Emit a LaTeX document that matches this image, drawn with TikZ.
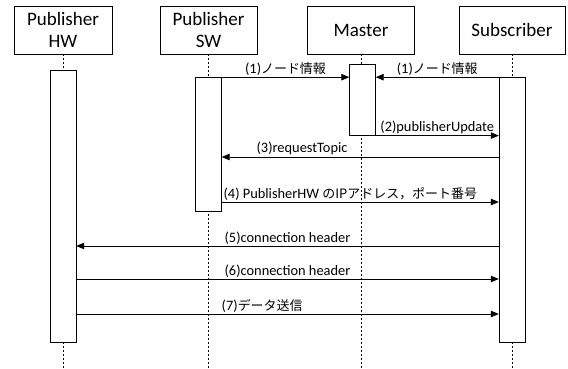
\documentclass[tikz,border=0pt]{standalone}
\usepackage{fontspec}
\setmainfont{Carlito}
\newfontfamily\jp[Scale=0.9]{Noto Sans CJK JP}
\usetikzlibrary{arrows.meta,positioning}

\tikzset{
  actor/.style={draw,thin,fill=white,minimum height=48pt,align=center,
    font=\fontsize{19}{22}\selectfont},
  bar/.style={draw,thin,fill=white,minimum width=26pt,anchor=north,inner sep=0pt},
  lifeline/.style={thin,dash pattern=on 2pt off 2pt},
  msg/.style={thick,-{Triangle[length=8pt,width=6.5pt]}},
  lbl/.style={above,inner sep=1.5pt,font=\fontsize{14.4}{16}\selectfont}
}

\begin{document}
\begin{tikzpicture}[x=1pt,y=1pt]
  \useasboundingbox (0,0) rectangle (568,-369);
  \coordinate (bottom) at (0,-369);

  % lifeline heads
  \node[actor,minimum width=98pt]  (hw)     at (63,-30)    {Publisher\\HW};
  \node[actor,minimum width=97pt]  (sw)     at (208.5,-30) {Publisher\\SW};
  \node[actor,minimum width=107pt] (master) at (361,-30)   {Master};
  \node[actor,minimum width=106pt] (sub)    at (512,-30)   {Subscriber};

  % dashed lifelines
  \foreach \who in {hw,sw,master,sub}
    \draw[lifeline] (\who.south) -- (\who.south |- bottom);

  % activation bars
  \node[bar,minimum height=272pt,below=16pt of hw]     (hwbar)  {};
  \node[bar,minimum height=134pt,below=23pt of sw]     (swbar)  {};
  \node[bar,minimum height=71pt, below=10pt of master,xshift=1.5pt] (mbar) {};
  \node[bar,minimum height=265pt,below=23pt of sub]    (subbar) {};

  % messages
  \draw[msg] (swbar.north east) -- (mbar.west |- swbar.north east)
    node[lbl,midway]{(1)\jp{ノード情報}};
  \draw[msg] (subbar.north west) -- (mbar.east |- subbar.north west)
    node[lbl,midway]{(1)\jp{ノード情報}};
  \draw[msg] (mbar.south east) -- (subbar.west |- mbar.south east)
    node[lbl,midway]{(2)publisherUpdate};
  \draw[msg] (subbar.west |- 0,-157) -- (swbar.east |- 0,-157)
    node[lbl,pos=.71]{(3)requestTopic};
  \draw[msg] (swbar.east |- 0,-202) -- (subbar.west |- 0,-202)
    node[lbl,pos=0,anchor=south west]{(4) PublisherHW \jp{の}IP\jp{アドレス，ポート番号}};
  \draw[msg] (subbar.west |- 0,-246) -- (hwbar.east |- 0,-246)
    node[lbl,midway]{(5)connection header};
  \draw[msg] (hwbar.east |- 0,-279) -- (subbar.west |- 0,-279)
    node[lbl,midway]{(6)connection header};
  \draw[msg] (hwbar.east |- 0,-314) -- (subbar.west |- 0,-314)
    node[lbl,pos=.44]{(7)\jp{データ送信}};
\end{tikzpicture}
\end{document}
